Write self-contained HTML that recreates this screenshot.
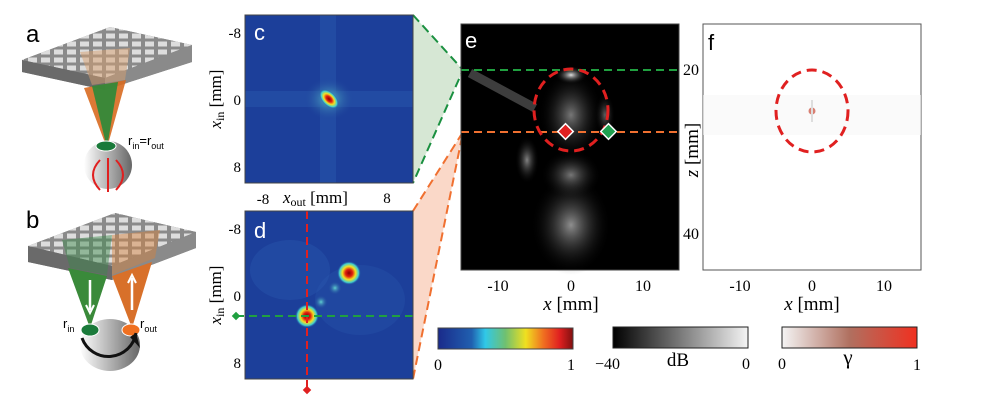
<!DOCTYPE html>
<html><head><meta charset="utf-8"><style>
body{margin:0;background:#fff}
svg{display:block}
text{font-family:"Liberation Serif",serif}
.s{font-family:"Liberation Sans",sans-serif}
</style></head><body>
<svg width="1007" height="409" viewBox="0 0 1007 409" xmlns="http://www.w3.org/2000/svg">
<defs>
<radialGradient id="hot"><stop offset="0" stop-color="#8b0000"/><stop offset="0.3" stop-color="#e02010"/><stop offset="0.55" stop-color="#f5e020"/><stop offset="0.8" stop-color="#40d0d0"/><stop offset="1" stop-color="#1c3f9a" stop-opacity="0"/></radialGradient>
<radialGradient id="cyan"><stop offset="0" stop-color="#60d0d0"/><stop offset="1" stop-color="#1c3f9a" stop-opacity="0"/></radialGradient>
<linearGradient id="jet"><stop offset="0" stop-color="#1a2a8a"/><stop offset="0.25" stop-color="#2060b0"/><stop offset="0.35" stop-color="#30c8e8"/><stop offset="0.5" stop-color="#70c070"/><stop offset="0.65" stop-color="#f0e020"/><stop offset="0.78" stop-color="#f07020"/><stop offset="0.9" stop-color="#e02020"/><stop offset="1" stop-color="#801010"/></linearGradient>
<linearGradient id="gray"><stop offset="0" stop-color="#000"/><stop offset="1" stop-color="#f4f4f4"/></linearGradient>
<linearGradient id="gam"><stop offset="0" stop-color="#f4f4f4"/><stop offset="0.5" stop-color="#b07060"/><stop offset="1" stop-color="#f03020"/></linearGradient>
<linearGradient id="sph" x1="0" x2="1"><stop offset="0" stop-color="#fff"/><stop offset="1" stop-color="#666"/></linearGradient>
<radialGradient id="glow"><stop offset="0" stop-color="#eee"/><stop offset="1" stop-color="#000" stop-opacity="0"/></radialGradient>
<pattern id="tiles" width="13" height="8" patternUnits="userSpaceOnUse"><rect width="13" height="8" fill="#8a8a8a"/><rect x="2" y="1.5" width="9" height="5" fill="#ddd"/></pattern>
</defs>

<!-- panel a -->
<text x="26" y="42" class="s" font-size="24">a</text>
<polygon points="22,60 110,27 192,45 192,62 105,90 22,72" fill="#777"/>
<polygon points="22,60 110,27 192,45 105,78" fill="url(#tiles)"/>
<polygon points="22,60 105,78 105,90 22,72" fill="#6a6a6a"/>
<polygon points="105,78 192,45 192,62 105,90" fill="#8a8a8a"/>
<polygon points="80,52 130,48 125,80 92,85" fill="#d8a070" opacity="0.5"/>
<polygon points="84,88 126,80 107,148" fill="#d86a20" opacity="0.9"/>
<polygon points="92,86 118,82 107,148" fill="#2a8a3a" opacity="0.9"/>
<circle cx="108" cy="165" r="24" fill="url(#sph)"/>
<ellipse cx="106" cy="146" rx="10" ry="5" fill="#1a7a3a" stroke="#fff"/>
<path d="M100,160 q-14,15 0,30 M116,160 q14,15 0,30 M108,158 v34" stroke="#e02020" stroke-width="2" fill="none"/>
<text x="128" y="145" class="s" font-size="13">r<tspan font-size="9" dy="4">in</tspan><tspan dy="-4">=r</tspan><tspan font-size="9" dy="4">out</tspan></text>

<!-- panel b -->
<text x="26" y="228" class="s" font-size="24">b</text>
<polygon points="28,246 115,213 196,232 196,248 112,280 28,262" fill="#777"/>
<polygon points="28,246 115,213 196,232 112,266" fill="url(#tiles)"/>
<polygon points="28,246 112,266 112,280 28,262" fill="#6a6a6a"/>
<polygon points="112,266 196,232 196,248 112,280" fill="#8a8a8a"/>
<polygon points="62,240 112,235 107,275 70,268" fill="#3a8a4a" opacity="0.45"/>
<polygon points="112,235 160,230 155,258 112,275" fill="#d8803a" opacity="0.45"/>
<polygon points="68,268 107,276 90,328" fill="#3a8a3a"/>
<polygon points="112,276 152,262 132,328" fill="#d8702a"/>
<path d="M90,280 v30 M132,310 v-32" stroke="#fff" stroke-width="2.5"/>
<path d="M86,305 l4,8 l4,-8 M128,283 l4,-8 l4,8" stroke="#fff" stroke-width="2" fill="none"/>
<ellipse cx="110" cy="345" rx="30" ry="26" fill="url(#sph)"/>
<ellipse cx="90" cy="330" rx="9" ry="6" fill="#1a7a3a" stroke="#fff"/>
<ellipse cx="131" cy="330" rx="9" ry="6" fill="#f07020" stroke="#fff"/>
<path d="M82,338 a28,28 0 0,0 54,-5" stroke="#111" stroke-width="3" fill="none"/>
<polygon points="130,337 140,348 136,333" fill="#111"/>
<text x="63" y="328" class="s" font-size="13">r<tspan font-size="9" dy="4">in</tspan></text>
<text x="140" y="328" class="s" font-size="13">r<tspan font-size="9" dy="4">out</tspan></text>

<!-- panel c -->
<polygon points="413,15 463,70 413,183" fill="#cfe3cc" opacity="0.85"/>
<path d="M413,15 L463,70 L413,183" stroke="#1a9040" stroke-width="2" stroke-dasharray="9,5" fill="none"/>
<rect x="245" y="15" width="168" height="168" fill="#1c3f9a"/>
<rect x="320" y="15" width="16" height="168" fill="#2a5ab0" opacity="0.45"/>
<rect x="245" y="91" width="168" height="16" fill="#2a5ab0" opacity="0.45"/>
<ellipse cx="329" cy="99" rx="26" ry="22" fill="url(#cyan)" opacity="0.8"/>
<ellipse cx="329" cy="99" rx="12" ry="7" fill="url(#hot)" transform="rotate(45 329 99)"/>
<rect x="245" y="15" width="168" height="168" fill="none" stroke="#444"/>
<text x="254" y="40" class="s" font-size="22" fill="#fff">c</text>
<g font-size="15" text-anchor="end"><text x="241" y="38">-8</text><text x="241" y="105">0</text><text x="241" y="172">8</text></g>
<text x="221" y="99" font-size="17" text-anchor="middle" transform="rotate(-90 221 99)"><tspan font-style="italic">x</tspan><tspan font-size="12" dy="3">in</tspan><tspan dy="-3"> [mm]</tspan></text>
<g font-size="15" text-anchor="middle"><text x="263" y="204">-8</text><text x="387" y="203">8</text></g>
<text x="283" y="203" font-size="17"><tspan font-style="italic">x</tspan><tspan font-size="12" dy="3">out</tspan><tspan dy="-3"> [mm]</tspan></text>

<!-- panel d -->
<polygon points="413,211 463,132 413,379" fill="#f9d4c2" opacity="0.9"/>
<path d="M413,211 L463,132 L413,379" stroke="#f07030" stroke-width="2" stroke-dasharray="9,5" fill="none"/>
<rect x="245" y="211" width="168" height="168" fill="#1c3f9a"/>
<ellipse cx="290" cy="270" rx="40" ry="30" fill="#2a5ab0" opacity="0.4"/>
<ellipse cx="360" cy="300" rx="45" ry="35" fill="#2a5ab0" opacity="0.3"/>
<circle cx="349" cy="273" r="12" fill="url(#hot)"/>
<circle cx="335" cy="288" r="7" fill="url(#cyan)"/>
<circle cx="321" cy="302" r="7" fill="url(#cyan)"/>
<circle cx="307" cy="316" r="12" fill="url(#hot)"/>
<line x1="307" y1="211" x2="307" y2="392" stroke="#e02020" stroke-width="2" stroke-dasharray="8,5"/>
<line x1="236" y1="316" x2="413" y2="316" stroke="#20a040" stroke-width="2" stroke-dasharray="8,5"/>
<rect x="304" y="387" width="6" height="6" fill="#e02020" transform="rotate(45 307 390)"/>
<rect x="233" y="313" width="6" height="6" fill="#20a040" transform="rotate(45 236 316)"/>
<rect x="245" y="211" width="168" height="168" fill="none" stroke="#444"/>
<text x="254" y="238" class="s" font-size="22" fill="#fff">d</text>
<g font-size="15" text-anchor="end"><text x="241" y="234">-8</text><text x="241" y="301">0</text><text x="241" y="368">8</text></g>
<text x="221" y="295" font-size="17" text-anchor="middle" transform="rotate(-90 221 295)"><tspan font-style="italic">x</tspan><tspan font-size="12" dy="3">in</tspan><tspan dy="-3"> [mm]</tspan></text>

<!-- panel e -->
<rect x="461" y="24" width="218" height="246" fill="#000"/>
<ellipse cx="571" cy="225" rx="40" ry="50" fill="url(#glow)" opacity="0.6"/>
<ellipse cx="571" cy="175" rx="30" ry="25" fill="url(#glow)" opacity="0.5"/>
<ellipse cx="571" cy="115" rx="32" ry="45" fill="url(#glow)" opacity="0.5"/>
<ellipse cx="571" cy="75" rx="16" ry="9" fill="url(#glow)" opacity="0.95"/>
<path d="M470,73 L535,108" stroke="#888" stroke-width="9" opacity="0.45"/>
<ellipse cx="527" cy="160" rx="12" ry="24" fill="url(#glow)" opacity="0.55"/>
<ellipse cx="605" cy="115" rx="10" ry="22" fill="url(#glow)" opacity="0.4"/>
<line x1="461" y1="70" x2="679" y2="70" stroke="#20a040" stroke-width="2" stroke-dasharray="8,5"/>
<line x1="461" y1="132" x2="679" y2="132" stroke="#f07030" stroke-width="2" stroke-dasharray="8,5"/>
<ellipse cx="571" cy="110" rx="37" ry="41" fill="none" stroke="#e02020" stroke-width="3" stroke-dasharray="10,6"/>
<rect x="560" y="126" width="11" height="11" fill="#e02020" stroke="#fff" stroke-width="1.5" transform="rotate(45 565.5 131.5)"/>
<rect x="603" y="126" width="11" height="11" fill="#20a050" stroke="#fff" stroke-width="1.5" transform="rotate(45 608.5 131.5)"/>
<rect x="461" y="24" width="218" height="246" fill="none" stroke="#444"/>
<text x="465" y="48" class="s" font-size="22" fill="#fff">e</text>
<g font-size="16"><text x="683" y="75">20</text><text x="683" y="239">40</text></g>
<g font-size="16" text-anchor="middle"><text x="498" y="291">-10</text><text x="571" y="291">0</text><text x="643" y="291">10</text></g>
<text x="571" y="310" font-size="19" text-anchor="middle"><tspan font-style="italic">x</tspan> [mm]</text>
<text x="693" y="150" font-size="19" text-anchor="middle" transform="rotate(-90 693 150)" dy="5"><tspan font-style="italic">z</tspan> [mm]</text>

<!-- panel f -->
<rect x="703" y="24" width="218" height="246" fill="#fff" stroke="#555"/>
<rect x="703" y="95" width="218" height="40" fill="#f6f6f6" opacity="0.6"/>
<circle cx="812" cy="111" r="3.5" fill="#d06050" opacity="0.8"/>
<line x1="812" y1="100" x2="812" y2="122" stroke="#ddd" stroke-width="2"/>
<ellipse cx="812" cy="111" rx="36" ry="41" fill="none" stroke="#e02020" stroke-width="3" stroke-dasharray="10,6"/>
<text x="708" y="50" class="s" font-size="22">f</text>
<g font-size="16" text-anchor="middle"><text x="740" y="291">-10</text><text x="812" y="291">0</text><text x="884" y="291">10</text></g>
<text x="812" y="310" font-size="19" text-anchor="middle"><tspan font-style="italic">x</tspan> [mm]</text>

<!-- colorbars -->
<rect x="438" y="328" width="135" height="21" fill="url(#jet)" stroke="#444"/>
<rect x="613" y="327" width="135" height="21" fill="url(#gray)" stroke="#222"/>
<rect x="782" y="327" width="135" height="21" fill="url(#gam)" stroke="#222"/>
<g font-size="16"><text x="434" y="370">0</text><text x="567" y="370">1</text><text x="595" y="369">−40</text><text x="742" y="369">0</text><text x="778" y="369">0</text><text x="913" y="370">1</text></g>
<text x="678" y="366" font-size="19" text-anchor="middle">dB</text>
<text x="848" y="364" font-size="21" text-anchor="middle">γ</text>
</svg>
</body></html>
